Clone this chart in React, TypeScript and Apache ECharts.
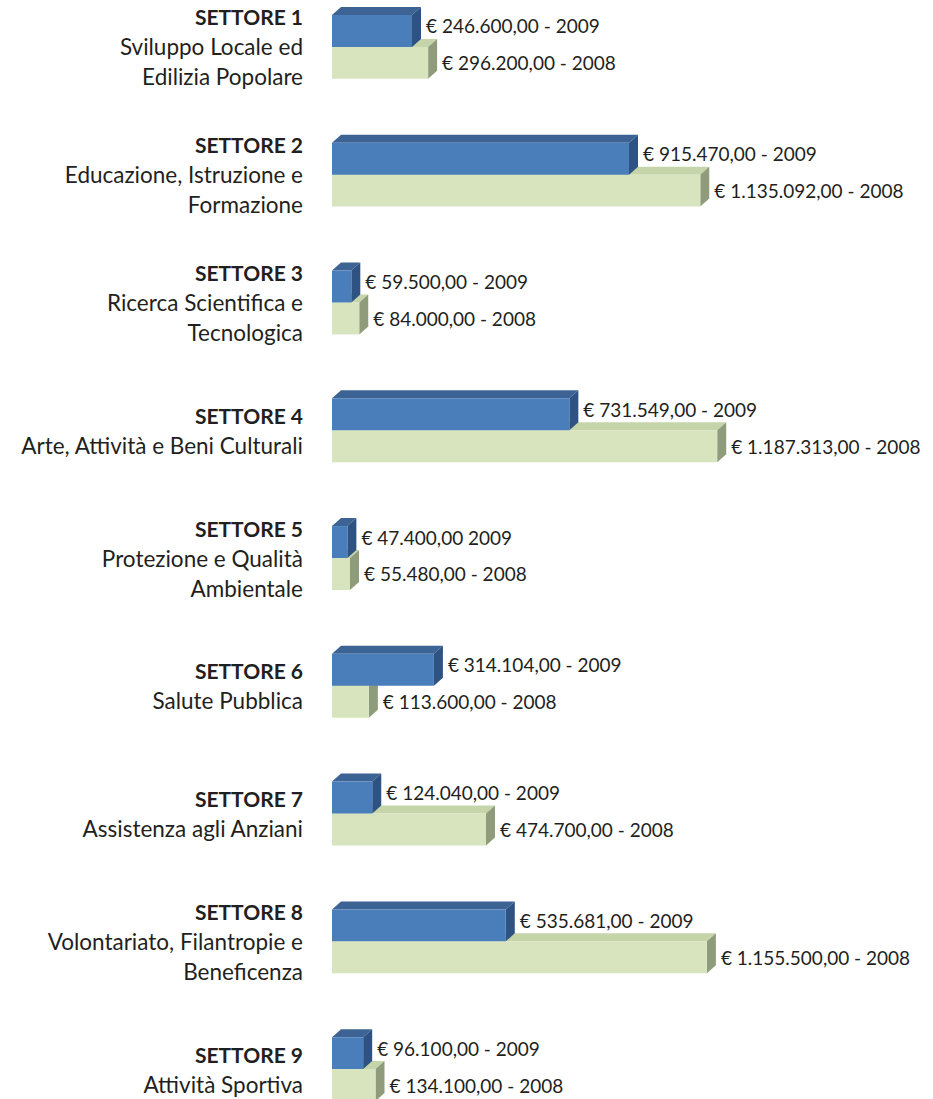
import React, { useEffect, useRef } from "react";
import * as echarts from "echarts";

const CATEGORIES = [
  "SETTORE 1",
  "SETTORE 2",
  "SETTORE 3",
  "SETTORE 4",
  "SETTORE 5",
  "SETTORE 6",
  "SETTORE 7",
  "SETTORE 8",
  "SETTORE 9",
];

const DESCRIPTIONS = [
  ["Sviluppo Locale ed", "Edilizia Popolare"],
  ["Educazione, Istruzione e", "Formazione"],
  ["Ricerca Scientifica e", "Tecnologica"],
  ["Arte, Attività e Beni Culturali"],
  ["Protezione e Qualità", "Ambientale"],
  ["Salute Pubblica"],
  ["Assistenza agli Anziani"],
  ["Volontariato, Filantropie e", "Beneficenza"],
  ["Attività Sportiva"],
];

const VALUES_2009 = [246600, 915470, 59500, 731549, 47400, 314104, 124040, 535681, 96100];
const VALUES_2008 = [296200, 1135092, 84000, 1187313, 55480, 113600, 474700, 1155500, 134100];
const SEPARATORS_2009 = [" - ", " - ", " - ", " - ", " ", " - ", " - ", " - ", " - "];
const SEPARATORS_2008 = [" - ", " - ", " - ", " - ", " - ", " - ", " - ", " - ", " - "];
const YEARS = ["2009", "2008"];

const FONT = "Lato, 'Open Sans', sans-serif";

function formatEuro(v: number): string {
  const s = Math.round(v).toString().replace(/\B(?=(\d{3})+(?!\d))/g, ".");
  return "€ " + s + ",00";
}

type Palette = { front: string; top: string; side: string };

function makeRender(isUpper: boolean, pal: Palette, labels: string[], labelDy: number) {
  return (params: any, api: any) => {
    const val = api.value(0);
    const cat = api.value(1);
    const p0 = api.coord([0, cat]);
    const p1 = api.coord([val, cat]);
    const band = api.size([0, 1])[1];
    const h = band * 0.25;
    const x0 = p0[0];
    const x1 = p1[0];
    const yc = p0[1];
    const yTop = isUpper ? yc - h : yc;
    const yBot = yTop + h;
    const dx = 9;
    const dy = 8;
    return {
      type: "group",
      children: [
        {
          type: "polygon",
          shape: {
            points: [
              [x0, yTop],
              [x1, yTop],
              [x1 + dx, yTop - dy],
              [x0 + dx, yTop - dy],
            ],
          },
          style: { fill: pal.top },
        },
        {
          type: "polygon",
          shape: {
            points: [
              [x1, yTop],
              [x1 + dx, yTop - dy],
              [x1 + dx, yBot - dy],
              [x1, yBot],
            ],
          },
          style: { fill: pal.side },
        },
        {
          type: "rect",
          shape: { x: x0, y: yTop, width: x1 - x0, height: h },
          style: { fill: pal.front },
        },
        {
          type: "text",
          x: x1 + dx + 5,
          y: (yTop + yBot) / 2 + labelDy,
          style: {
            text: labels[params.dataIndex],
            fill: "#231f20",
            font: "19px " + FONT,
            textAlign: "left",
            textVerticalAlign: "middle",
          },
        },
      ],
    };
  };
}

export default function App() {
  const ref = useRef<HTMLDivElement>(null);

  useEffect(() => {
    if (!ref.current) return;
    const chart = echarts.init(ref.current, undefined, { renderer: "svg" });

    const labels2009 = VALUES_2009.map(
      (v, i) => formatEuro(v) + SEPARATORS_2009[i] + YEARS[0]
    );
    const labels2008 = VALUES_2008.map(
      (v, i) => formatEuro(v) + SEPARATORS_2008[i] + YEARS[1]
    );

    const option = {
      animation: false,
      backgroundColor: "#ffffff",
      grid: { left: 332, right: 17, top: 0, bottom: 0, containLabel: false },
      xAxis: {
        type: "value",
        min: 0,
        max: 1800000,
        show: false,
      },
      yAxis: {
        type: "category",
        inverse: true,
        data: CATEGORIES,
        axisLine: { show: false },
        axisTick: { show: false },
        splitLine: { show: false },
        axisLabel: {
          margin: 29,
          align: "right",
          verticalAlign: "middle",
          formatter: (value: string, idx: number) => {
            const lines = ["{b|" + value + "}"].concat(
              DESCRIPTIONS[idx].map((d) => "{n|" + d + "}")
            );
            return lines.join("\n");
          },
          rich: {
            b: {
              fontFamily: FONT,
              fontWeight: "bold",
              fontSize: 21,
              lineHeight: 30,
              color: "#231f20",
              align: "right",
            },
            n: {
              fontFamily: FONT,
              fontSize: 22.5,
              lineHeight: 30,
              color: "#231f20",
              align: "right",
            },
          },
        },
      },
      series: [
        {
          name: YEARS[1],
          type: "custom",
          z: 2,
          renderItem: makeRender(
            false,
            { front: "#d7e4bd", top: "#c6d4a9", side: "#8e9c7b" },
            labels2008,
            0
          ),
          encode: { x: 0, y: 1 },
          data: VALUES_2008.map((v, i) => [v, i]),
        },
        {
          name: YEARS[0],
          type: "custom",
          z: 3,
          renderItem: makeRender(
            true,
            { front: "#4a7ebb", top: "#3c6394", side: "#2e5383" },
            labels2009,
            -5
          ),
          encode: { x: 0, y: 1 },
          data: VALUES_2009.map((v, i) => [v, i]),
        },
      ],
    };

    chart.setOption(option as any);
    return () => chart.dispose();
  }, []);

  return (
    <div
      ref={ref}
      style={{
        position: "fixed",
        left: 0,
        top: -17,
        width: 933,
        height: 1150,
        background: "#fff",
      }}
    />
  );
}
